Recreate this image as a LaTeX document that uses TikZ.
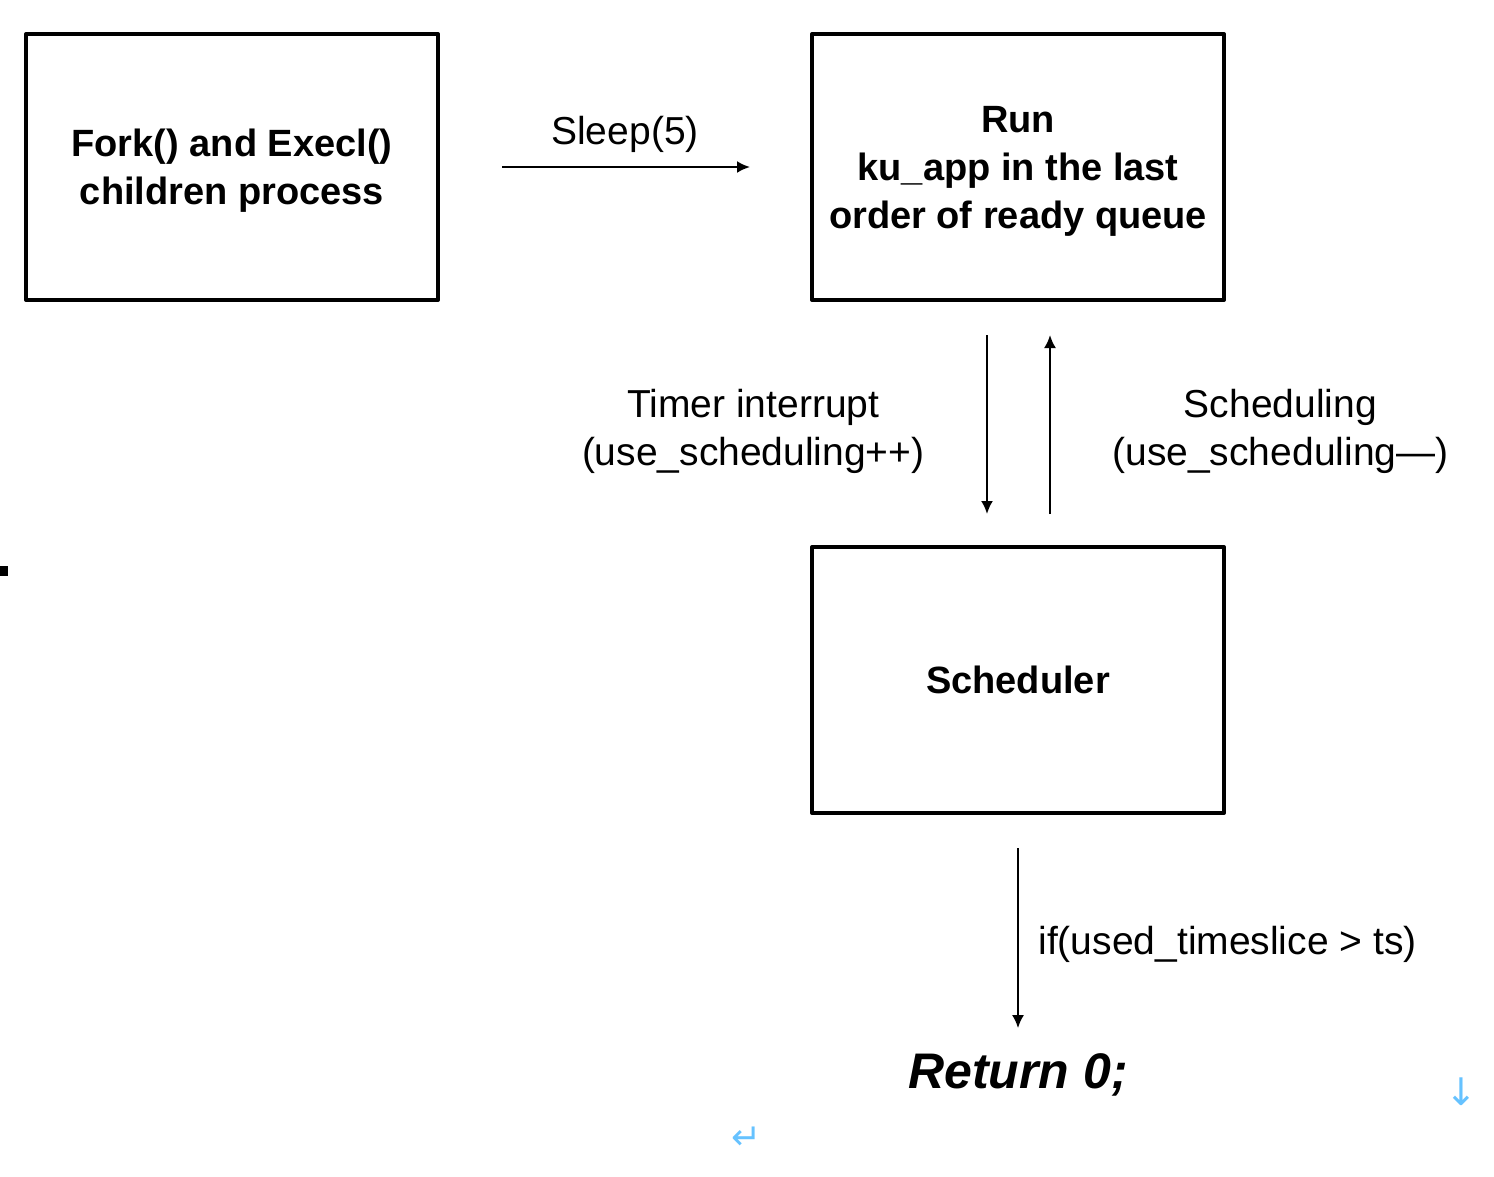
\documentclass[tikz,border=0pt]{standalone}
\usepackage{fontspec}
\setmainfont{Liberation Sans}
\newfontfamily\symfont{DejaVu Sans}
\usetikzlibrary{arrows.meta,positioning}
\colorlet{marks}{blue!40!cyan!60!white}

\begin{document}
\begin{tikzpicture}[x=1pt, y=-1pt,
    arr/.style={line width=2.2pt, -{Latex[length=13pt,width=12pt]}},
    box/.style={draw, rectangle, line width=4pt, line join=round, minimum width=412pt, minimum height=266pt, align=center, text depth=0pt, font=\fontsize{38}{48}\selectfont\bfseries},
    lbl/.style={align=center, font=\fontsize{39}{48}\selectfont},
    side/.style={lbl, text depth=0pt, yshift=-4pt}]
                \useasboundingbox (0,0) rectangle (1494,1176);
                % Nodes
                \node [box] (F) at (232,167) {Fork() and Execl()\\children process};
                \node [box, right=370pt of F] (R) {Run\\ku\_app in the last\\order of ready queue};
                \node [box, below=243pt of R] (S) {Scheduler};
                \node [font=\fontsize{50}{60}\selectfont\bfseries\itshape] (ret) at (1018,1075) {Return 0;};
                
                % Arrows
                \draw[arr, shorten <=62pt, shorten >=60pt] (F) -- node[lbl, above=10pt] {Sleep(5)} (R);
                \draw[arr, shorten <=33pt, shorten >=31pt] ([xshift=-31pt]R.south) -- node[side, left=58pt] {Timer interrupt\\(use\_scheduling++)} ([xshift=-31pt]S.north);
                \draw[arr, shorten <=31pt, shorten >=33pt] ([xshift=32pt]S.north) -- node[side, right=58pt] {Scheduling\\(use\_scheduling---)} ([xshift=32pt]R.south);
                \draw[arr, shorten <=33pt, shorten >=22pt] (S.south) -- node[lbl, right=16pt, pos=0.55] {if(used\_timeslice > ts)} (ret.north);
                
                % Marks
                \fill (0,566) rectangle (8,576);
                \node [text=marks, font=\symfont\fontsize{38}{44}\selectfont] (down) at (1461,1092) {↓};
                \node [text=marks, font=\symfont\fontsize{36}{42}\selectfont] (enter) at (747,1138) {↵};
\end{tikzpicture}
\end{document}
